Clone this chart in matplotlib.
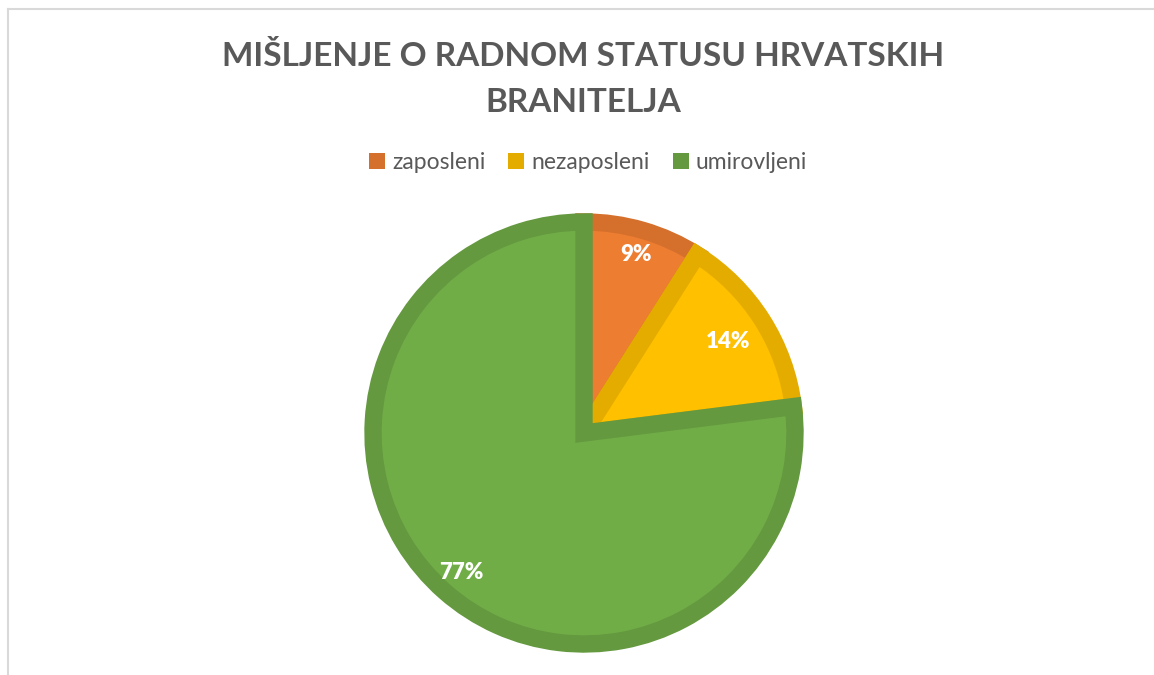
import matplotlib
matplotlib.use("Agg")
import matplotlib.pyplot as plt
from matplotlib.lines import Line2D
import numpy as np

categories = ["zaposleni", "nezaposleni", "umirovljeni"]
values = [9, 14, 77]
fill_colors = ["#ED7D31", "#FFC000", "#70AD47"]
edge_colors = ["#D5702C", "#E5AC00", "#64993F"]
label_dist = [0.88, 0.81, 0.88]
title = "MIŠLJENJE O RADNOM STATUSU HRVATSKIH\nBRANITELJA"

W, H = 1154, 675
fig = plt.figure(figsize=(W / 100, H / 100), dpi=100)
fig.patch.set_facecolor("white")
fam = ["Lato", "DejaVu Sans"]

# frame lines
fig.add_artist(Line2D([8 / W, 1], [1 - 9 / H, 1 - 9 / H], transform=fig.transFigure, color="#d9d9d9", lw=1.5))
fig.add_artist(Line2D([8 / W, 8 / W], [0, 1 - 9 / H], transform=fig.transFigure, color="#d9d9d9", lw=1.5))

cx, cy, R = 584, 433, 211
box = 222
ax = fig.add_axes([(cx - box) / W, (H - cy - box) / H, 2 * box / W, 2 * box / H])

wedges, _ = ax.pie(values, colors=fill_colors, startangle=90, counterclock=False,
                   radius=R / box, wedgeprops=dict(linewidth=12.5, edgecolor="none"))
ax.set_xlim(-1, 1)
ax.set_ylim(-1, 1)
ax.set_aspect("equal")
ax.axis("off")
for w, ec in zip(wedges, edge_colors):
    w.set_edgecolor(ec)
    w.set_clip_path(w)

total = sum(values)
for w, v, d in zip(wedges, values, label_dist):
    ang = np.deg2rad((w.theta1 + w.theta2) / 2)
    r = w.r * d
    ax.text(r * np.cos(ang), r * np.sin(ang), f"{round(100 * v / total)}%", ha="center", va="center",
            color="white", fontsize=16, fontweight="heavy", family=fam)

fig.text(583 / W, 1 - 79 / H, title, ha="center", va="center", fontsize=24, fontweight="bold",
         color="#595959", family=fam, linespacing=1.7)

handles = [plt.Rectangle((0, 0), 1, 1, facecolor=c) for c in edge_colors]
fig.legend(handles, categories, loc="center", bbox_to_anchor=(588 / W, 1 - 163 / H), ncol=3,
           frameon=False, prop=dict(family=fam, size=16.5), labelcolor="#595959",
           handlelength=0.7, handleheight=0.7, handletextpad=0.3, columnspacing=1.0)

fig.savefig("out.png", dpi=100, facecolor="white")
